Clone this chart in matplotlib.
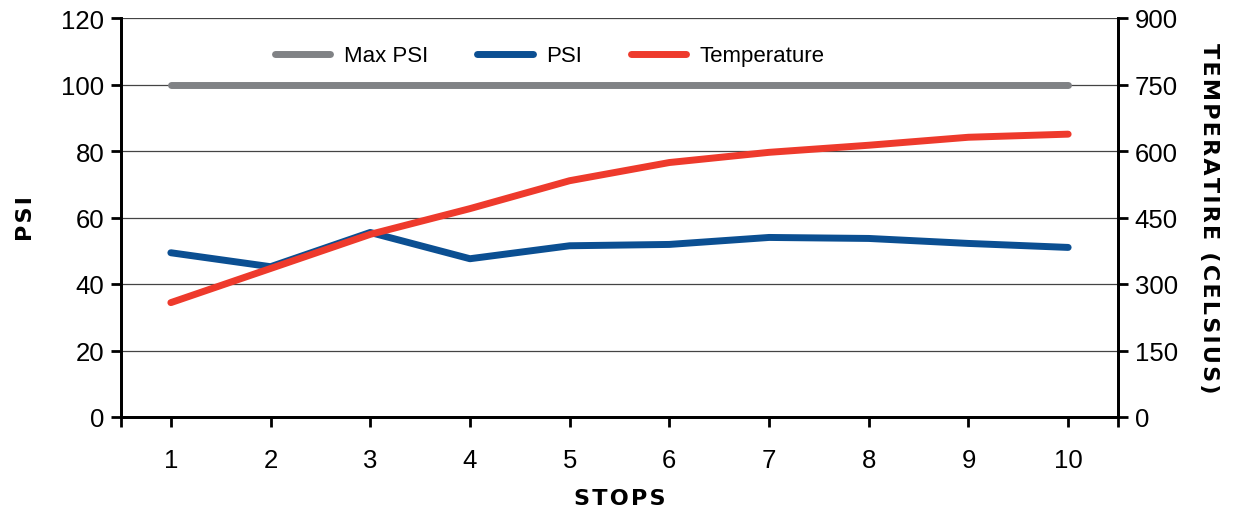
import matplotlib.pyplot as plt

# data
stops = [1, 2, 3, 4, 5, 6, 7, 8, 9, 10]
max_psi = [100, 100, 100, 100, 100, 100, 100, 100, 100, 100]
psi = [49.4, 45.2, 55.5, 47.6, 51.5, 51.9, 54.0, 53.7, 52.2, 51.0]
temperature = [258, 335, 412, 470, 533, 574, 597, 613, 631, 638]

plt.rcParams['font.family'] = ['Liberation Sans', 'DejaVu Sans']

fig = plt.figure(figsize=(12.45, 5.10), dpi=100)
ax = fig.add_axes([121 / 1245, 1 - 418 / 510, (1118 - 121) / 1245, (418 - 19) / 510])
ax2 = ax.twinx()

l1, = ax.plot(stops, max_psi, color='#808285', lw=5, solid_capstyle='round', label='Max PSI', zorder=3)
l2, = ax.plot(stops, psi, color='#0b4f92', lw=5, solid_capstyle='round', label='PSI', zorder=3)
l3, = ax2.plot(stops, temperature, color='#ee3a2c', lw=5, solid_capstyle='round', label='Temperature', zorder=3)

ax.set_xlim(0.5, 10.5)
ax.set_ylim(0, 120)
ax2.set_ylim(0, 900)
ax.set_yticks(range(0, 121, 20))
ax2.set_yticks(range(0, 901, 150))
ax.set_xticks([0.5] + stops + [10.5])
ax.set_xticklabels([''] + [str(s) for s in stops] + [''])

ax.grid(axis='y', color='#444444', lw=0.9)
ax.set_axisbelow(True)

for a in (ax, ax2):
    a.spines['top'].set_visible(False)
    a.tick_params(direction='out', width=2, length=7, labelsize=18.5, pad=5)
    a.spines['left'].set_linewidth(2)
    a.spines['right'].set_linewidth(2)
    a.spines['bottom'].set_linewidth(2)
ax.tick_params(axis='x', pad=15)

hs = '\u200a'
bold = dict(family='DejaVu Sans', fontweight='bold', fontsize=16)
ax.set_xlabel(hs.join('STOPS'), labelpad=12, **bold)
ax.set_ylabel(hs.join('PSI'), labelpad=18, **bold)
ax2.set_ylabel(hs.join('TEMPERATIRE (CELSIUS)'), rotation=270, labelpad=30, **bold)

ax.legend(handles=[l1, l2, l3], loc='center', bbox_to_anchor=(0.43, 0.905), ncol=3,
          frameon=False, fontsize=16, handlelength=2.5, columnspacing=2.2, handletextpad=0.6)

fig.savefig('out.png', dpi=100)
